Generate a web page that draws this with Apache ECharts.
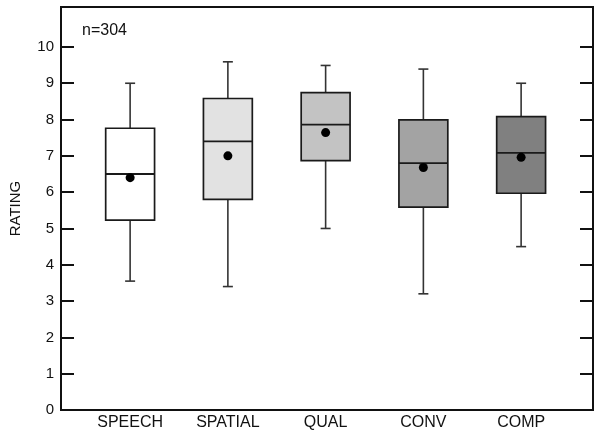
<!DOCTYPE html>
<html><head><meta charset="utf-8">
<script src="https://cdn.jsdelivr.net/npm/echarts@6/dist/echarts.min.js"></script>
<style>html,body{margin:0;padding:0;background:#fff}#c{width:601px;height:435px}</style>
</head><body><div id="c"></div>
<script>
const categories = ['SPEECH', 'SPATIAL', 'QUAL', 'CONV', 'COMP'];
const whiskerLow = [3.55, 3.4, 5.0, 3.2, 4.5];
const q1 = [5.23, 5.8, 6.87, 5.59, 5.97];
const median = [6.5, 7.4, 7.86, 6.8, 7.08];
const q3 = [7.76, 8.58, 8.74, 7.99, 8.08];
const whiskerHigh = [9.0, 9.59, 9.49, 9.39, 9.0];
const means = [6.4, 7.0, 7.64, 6.68, 6.96];
const yTicks = [0, 1, 2, 3, 4, 5, 6, 7, 8, 9, 10];

const fills = ['#ffffff', '#e2e2e2', '#c3c3c3', '#a3a3a3', '#808080'];
const FONT = 'Liberation Sans';

const boxData = categories.map((c, i) => [i, whiskerLow[i], q1[i], median[i], q3[i], whiskerHigh[i]]);
const meanData = categories.map((c, i) => [i, means[i]]);

const chart = echarts.init(document.getElementById('c'), null, {renderer: 'canvas'});
const Y_MAX = 11.1;
chart.setOption({
  animation: false,
  backgroundColor: '#fff',
  grid: [
    {left: 81.25, right: 31, top: 7, bottom: 25},
    {left: 57, right: 8, top: 7, bottom: 25, show: true, borderColor: '#111', borderWidth: 2, backgroundColor: 'transparent'}
  ],
  xAxis: [
    {type: 'category', gridIndex: 0, data: categories, boundaryGap: true,
     axisLine: {show: false}, axisTick: {show: false},
     axisLabel: {color: '#111', fontFamily: FONT, fontSize: 16, margin: 5}},
    {type: 'value', gridIndex: 1, min: 0, max: 1, show: false}
  ],
  yAxis: [
    {type: 'value', gridIndex: 0, min: 0, max: Y_MAX, show: false},
    {type: 'value', gridIndex: 1, min: 0, max: Y_MAX, position: 'left',
     name: 'RATING', nameLocation: 'middle', nameGap: 38, nameRotate: 90,
     nameTextStyle: {color: '#111', fontFamily: FONT, fontSize: 15},
     splitLine: {show: false},
     axisLine: {show: false},
     axisTick: {show: true, inside: true, length: 13, lineStyle: {color: '#111', width: 2}, customValues: yTicks},
     axisLabel: {color: '#111', fontFamily: FONT, fontSize: 15, margin: 7, customValues: yTicks}},
    {type: 'value', gridIndex: 1, min: 0, max: Y_MAX, position: 'right',
     splitLine: {show: false}, axisLine: {show: false},
     axisTick: {show: true, inside: true, length: 13, lineStyle: {color: '#111', width: 2}, customValues: yTicks},
     axisLabel: {show: false}}
  ],
  graphic: [
    {type: 'text', left: 82, top: 23, style: {text: 'n=304', fill: '#111', font: '16px "Liberation Sans"'}}
  ],
  series: [
    {
      type: 'custom', xAxisIndex: 0, yAxisIndex: 0,
      data: boxData,
      encode: {x: 0, y: [1, 2, 3, 4, 5]},
      renderItem: function (params, api) {
        const i = api.value(0);
        const band = api.size([1, 0])[0];
        const half = band * 0.25;
        const cap = 5;
        const pLo = api.coord([i, api.value(1)]);
        const pQ1 = api.coord([i, api.value(2)]);
        const pMed = api.coord([i, api.value(3)]);
        const pQ3 = api.coord([i, api.value(4)]);
        const pHi = api.coord([i, api.value(5)]);
        const cx = pMed[0];
        const ls = {stroke: '#333', lineWidth: 1.6};
        return {
          type: 'group',
          children: [
            {type: 'line', shape: {x1: cx, y1: pHi[1], x2: cx, y2: pQ3[1]}, style: ls},
            {type: 'line', shape: {x1: cx - cap, y1: pHi[1], x2: cx + cap, y2: pHi[1]}, style: ls},
            {type: 'line', shape: {x1: cx, y1: pQ1[1], x2: cx, y2: pLo[1]}, style: ls},
            {type: 'line', shape: {x1: cx - cap, y1: pLo[1], x2: cx + cap, y2: pLo[1]}, style: ls},
            {type: 'rect', shape: {x: cx - half, y: pQ3[1], width: half * 2, height: pQ1[1] - pQ3[1]},
             style: {fill: fills[params.dataIndex], stroke: '#1a1a1a', lineWidth: 1.7}},
            {type: 'line', shape: {x1: cx - half, y1: pMed[1], x2: cx + half, y2: pMed[1]}, style: {stroke: '#1a1a1a', lineWidth: 1.8}}
          ]
        };
      }
    },
    {
      type: 'scatter', xAxisIndex: 0, yAxisIndex: 0,
      data: meanData, symbol: 'circle', symbolSize: 9,
      itemStyle: {color: '#000', opacity: 1}, z: 5
    }
  ]
});
</script></body></html>
